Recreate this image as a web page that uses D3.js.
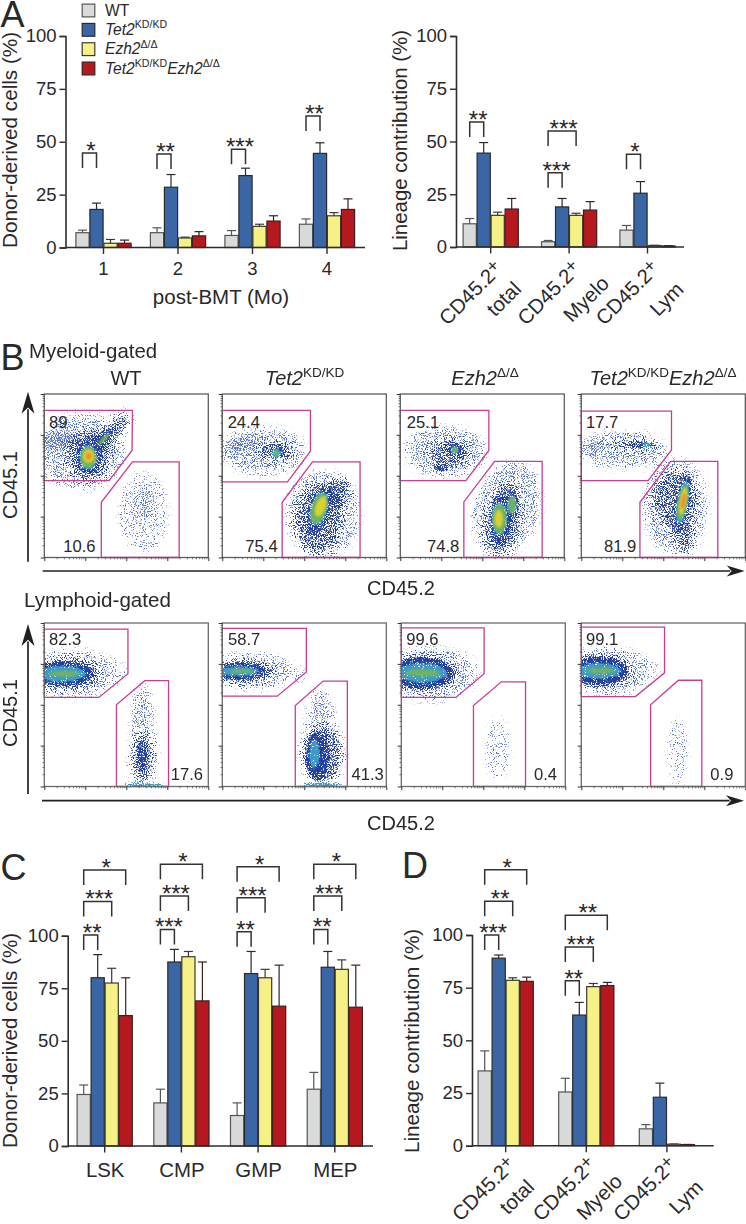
<!DOCTYPE html>
<html><head><meta charset="utf-8">
<script src="https://cdn.jsdelivr.net/npm/d3@7"></script>
<style>
html,body{margin:0;padding:0;background:#fff}
svg{display:block}
text{font-family:"Liberation Sans",Arial,sans-serif;fill:#2a2829}
</style></head><body><div id="c"></div>
<script>
// ---------- bar chart data ----------
const seriesKeys = ["WT","Tet2","Ezh2","DKO"];
const seriesFill = ["#d9dada","#3a66a6","#f6f186","#b5191f"];
const seriesStroke = ["#555555","#2b2a2a","#3a3a30","#3a2020"];

const monthGroups = ["1","2","3","4"];
const aLeftMean = [[7,7,5.7,11],[18,28.5,34,44.5],[2,4.5,10,15],[2,5.5,12.5,18]];
const aLeftTop  = [[8.2,9.3,8,13.5],[21,34.5,37.5,49.5],[3.8,4.9,11,16.5],[3.5,7.5,15,23]];

const lineageGroups = ["total","Myelo","Lym"];
const aRightMean = [[11,2.5,8],[44.5,19,25.5],[15,15,0.7],[18,17.5,0.5]];
const aRightTop  = [[13.5,3.1,10.2],[49.5,23,31],[16.5,16,0.8],[23,21.5,0.6]];

const progenitorGroups = ["LSK","CMP","GMP","MEP"];
const cMean = [[24.5,20.5,14.5,27],[80,87.5,82,85],[77.5,90,80,84],[62,69,66.5,66]];
const cTop  = [[29,27,20.5,35],[91,93.5,92.5,92.5],[84.5,92.5,84,88.5],[80,87.5,86,86]];

const dMean = [[35.5,25.5,8],[89,62,23],[78.5,75.5,0.7],[78,76,0.5]];
const dTop  = [[45,32,10],[90.5,68,29.7],[79.7,77,0.8],[80,77.5,0.6]];

const yTicks = [0,25,50,75,100];

// significance brackets: group, from bar, to bar, top value, stars
const aLeftSig = [["1",0,1,44.7,"*"],["2",0,1,44.2,"**"],["3",0,1,46.4,"***"],["4",0,1,62.2,"**"]];
const aRightSig = [["total",0,1,59.3,"**"],["Myelo",0,1,35.2,"***"],["Myelo",0,2,55,"***"],["Lym",0,1,43.9,"*"]];
const cSig = [["LSK",0,1,100.3,"**"],["LSK",0,2,116.3,"***"],["LSK",0,3,131.2,"*"],
  ["CMP",0,1,103,"***"],["CMP",0,2,118.9,"***"],["CMP",0,3,134,"*"],
  ["GMP",0,1,101.9,"**"],["GMP",0,2,118.1,"***"],["GMP",0,3,132.8,"*"],
  ["MEP",0,1,103,"**"],["MEP",0,2,118.9,"***"],["MEP",0,3,134,"*"]];
const dSig = [["total",0,1,100,"***"],["total",0,2,116,"**"],["total",0,3,131,"*"],
  ["Myelo",0,1,78.3,"**"],["Myelo",0,2,94.3,"***"],["Myelo",0,3,109.4,"**"]];

// ---------- flow cytometry data (axes in log decades, 0 to 4) ----------
const flowTitles = ["WT","Tet2","Ezh2","DKO"];
const row1Percent = [["89","10.6"],["24.4","75.4"],["25.1","74.8"],["17.7","81.9"]];
const row2Percent = [["82.3","17.6"],["58.7","41.3"],["99.6","0.4"],["99.1","0.9"]];

const row1GateUpper = [
 [[0,3.6],[2.15,3.6],[2.14,2.62],[1.58,1.88],[0,1.88]],
 [[0,3.6],[2.15,3.6],[2.15,2.6],[1.59,1.85],[0,1.85]],
 [[0,3.6],[2.16,3.6],[2.16,2.62],[1.6,1.88],[0,1.88]],
 [[0,3.58],[2.2,3.58],[2.2,2.63],[1.63,1.88],[0,1.88]]];
const row1GateLower = [
 [[2.15,2.34],[3.29,2.34],[3.29,0],[1.39,0],[1.39,1.35]],
 [[2.2,2.34],[3.36,2.34],[3.36,0],[1.46,0],[1.46,1.35]],
 [[2.3,2.35],[3.46,2.35],[3.46,0],[1.55,0],[1.55,1.36]],
 [[2.18,2.35],[3.33,2.35],[3.33,0],[1.43,0],[1.43,1.35]]];
const row2GateUpper = [
 [[0,3.85],[2.04,3.85],[2.04,2.76],[1.33,2.18],[0,2.18]],
 [[0,3.87],[2.05,3.87],[2.05,2.8],[1.34,2.21],[0,2.21]],
 [[0,3.88],[2.02,3.88],[2.02,2.76],[1.33,2.18],[0,2.18]],
 [[0,3.9],[2.03,3.9],[2.03,2.78],[1.32,2.2],[0,2.2]]];
const row2GateLower = [
 [[2.45,2.59],[3.03,2.59],[3.03,0],[1.76,0],[1.76,2.0]],
 [[2.46,2.58],[3.05,2.58],[3.05,0],[1.78,0],[1.78,1.98]],
 [[2.44,2.56],[3.03,2.56],[3.03,0],[1.76,0],[1.76,1.98]],
 [[2.37,2.6],[2.94,2.6],[2.94,0],[1.69,0],[1.69,2.0]]];

// Density regions: level, centre x, centre y, radius x, radius y, tilt.
// Individual events cannot be read, so each plot shows density regions with a noise texture.
const row1Density = [
 [[1,0.9,2.6,1.05,0.95,0],[1,0.45,2.85,0.55,0.22,0],[2,1.07,2.5,0.6,0.68,0],[2,1.55,3.0,0.75,0.25,-45],[3,1.07,2.45,0.34,0.46,0],[3,1.5,2.95,0.4,0.12,-45],[4,1.07,2.45,0.22,0.3,0],[5,1.07,2.45,0.19,0.26,0],[5,1.45,2.9,0.22,0.05,-45],[6,1.08,2.48,0.14,0.17,0],[7,1.08,2.48,0.07,0.09,0],
  [0,2.42,1.1,0.62,1.0,0],[0,2.42,1.3,0.25,0.42,0]],
 [[1,1.0,2.6,1.05,0.58,0],[2,1.3,2.6,0.5,0.28,0],[1,0.5,2.75,0.5,0.15,0],[3,1.35,2.58,0.22,0.18,0],[4,1.32,2.55,0.12,0.12,0],[5,1.32,2.55,0.07,0.08,0],
  [1,2.45,1.05,0.9,1.08,0],[2,2.35,0.95,0.62,0.9,0],[2,2.8,1.6,0.38,0.38,0],[3,2.35,1.1,0.3,0.62,15],[4,2.36,1.2,0.2,0.42,15],[5,2.36,1.2,0.18,0.38,15],[6,2.4,1.25,0.12,0.26,20]],
 [[1,1.1,2.6,1.0,0.62,0],[2,1.2,2.55,0.55,0.42,0],[3,1.35,2.62,0.2,0.2,0],[3,1.0,2.2,0.2,0.12,0],[4,1.33,2.63,0.11,0.1,0],[5,1.33,2.63,0.07,0.07,0],
  [1,2.6,1.2,0.8,1.18,15],[2,2.5,0.95,0.48,0.95,10],[3,2.45,0.9,0.28,0.68,0],[3,2.72,1.3,0.2,0.38,0],[4,2.42,0.95,0.19,0.4,0],[4,2.72,1.28,0.12,0.25,0],[5,2.42,0.95,0.17,0.36,0],[5,2.72,1.28,0.09,0.2,0],[6,2.4,0.95,0.1,0.22,0]],
 [[1,1.0,2.65,1.08,0.47,0],[2,1.25,2.75,0.68,0.16,0],[1,0.3,2.75,0.22,0.13,0],[3,1.45,2.75,0.38,0.1,0],[4,1.6,2.75,0.12,0.07,0],
  [1,2.3,1.25,0.78,1.18,0],[2,2.3,1.4,0.58,0.78,0],[2,2.5,0.5,0.28,0.45,0],[3,2.47,1.35,0.2,0.72,10],[4,2.47,1.35,0.14,0.55,10],[5,2.47,1.35,0.11,0.45,10],[6,2.48,1.38,0.08,0.34,10],[7,2.49,1.38,0.05,0.2,10]]];
const row2Density = [
 [[1,0.7,2.76,1.05,0.58,0],[0,1.55,2.8,0.5,0.35,0],[2,0.55,2.76,0.88,0.44,0],[3,0.5,2.76,0.74,0.34,0],[3,0.45,2.76,0.68,0.29,0],[4,0.42,2.76,0.6,0.2,0],[5,0.48,2.76,0.38,0.07,0],
  [1,2.4,1.3,0.28,1.25,0],[2,2.4,0.72,0.3,0.68,0],[3,2.4,0.75,0.16,0.45,0],[4,2.42,0.04,0.47,0.06,0]],
 [[1,0.75,2.82,1.0,0.45,0],[0,1.6,2.75,0.5,0.22,0],[2,0.55,2.82,0.78,0.34,0],[3,0.45,2.82,0.66,0.24,0],[3,0.42,2.82,0.6,0.2,0],[4,0.4,2.82,0.5,0.13,0],[5,0.48,2.82,0.3,0.05,0],
  [1,2.4,1.25,0.36,1.2,0],[2,2.45,0.8,0.52,0.76,0],[3,2.32,0.75,0.32,0.64,0],[3,2.32,0.75,0.24,0.56,0],[4,2.25,0.8,0.14,0.36,0],[4,2.4,0.04,0.5,0.06,0]],
 [[1,0.72,2.75,1.05,0.66,0],[0,1.5,2.8,0.42,0.42,0],[2,0.55,2.78,0.86,0.5,0],[3,0.5,2.78,0.8,0.42,0],[3,0.5,2.78,0.74,0.36,0],[4,0.5,2.78,0.62,0.24,0],[5,0.52,2.78,0.42,0.09,0],
  [0,2.35,0.9,0.3,0.78,0]],
 [[1,0.7,2.83,1.0,0.58,0],[0,1.5,2.85,0.42,0.3,0],[2,0.5,2.83,0.8,0.46,0],[3,0.45,2.83,0.72,0.38,0],[3,0.42,2.83,0.66,0.32,0],[4,0.42,2.83,0.55,0.2,0],[5,0.48,2.83,0.34,0.07,0],
  [0,2.35,0.85,0.25,0.85,0]]];
const levelColor = ["#5b74b8","#5a75bc","#24408f","#23409f","#3d9cc6","#73b25c","#e0d32e","#ee8a2a"];
const levelDensity = [0.3,0.46,0.64,0.82,1,0.95,0.95,0.95];
const levelBlur = [3,4.5,4,1.7,1.7,0,0,0];

const logSteps = [2,3,4,5,6,7,8,9];

// ---------- drawing ----------
const W=746,H=1224;
const svg=d3.select("#c").append("svg").attr("width",W).attr("height",H).attr("viewBox",[0,0,W,H]);
const defs=svg.append("defs");
[...new Set(levelBlur.filter(b=>b>0))].forEach(std=>{
  const fp=defs.append("filter").attr("id","speckle"+String(std).replace(".","_")).attr("filterUnits","userSpaceOnUse")
    .attr("x",0).attr("y",0).attr("width",W).attr("height",H).attr("color-interpolation-filters","sRGB");
  fp.append("feGaussianBlur").attr("in","SourceGraphic").attr("stdDeviation",std).attr("result","b");
  fp.append("feTurbulence").attr("type","fractalNoise").attr("baseFrequency",0.9).attr("numOctaves",2).attr("seed",5).attr("result","n");
  fp.append("feColorMatrix").attr("in","n").attr("type","matrix").attr("values","0 0 0 0 0  0 0 0 0 0  0 0 0 0 0  2.2 0 0 0 -0.6").attr("result","na");
  fp.append("feComposite").attr("in","na").attr("in2","b").attr("operator","arithmetic").attr("k1",0).attr("k2",1).attr("k3",1).attr("k4",-1).attr("result","m0");
  fp.append("feComponentTransfer").attr("in","m0").attr("result","m").append("feFuncA").attr("type","linear").attr("slope",4).attr("intercept",0);
  fp.append("feComponentTransfer").attr("in","b").attr("result","c").append("feFuncA").attr("type","linear").attr("slope",60).attr("intercept",0);
  fp.append("feComposite").attr("in","c").attr("in2","m").attr("operator","in");
});
defs.append("filter").attr("id","soft").append("feGaussianBlur").attr("stdDeviation",1.3);

function rich(sel,parts){
  parts.forEach(p=>{
    const t=sel.append("tspan").text(p.t);
    if(p.i) t.attr("font-style","italic");
    if(p.s) t.attr("font-size",p.s).attr("dy",p.d);
  });
  return sel;
}
function geno(k,base,sup){
  const u=+(base*0.42).toFixed(1);
  const kd={t:"KD/KD",s:sup,d:-u}, dd={t:"\u0394/\u0394",s:sup,d:-u};
  if(k==="WT") return [{t:"WT"}];
  if(k==="Tet2") return [{t:"Tet2",i:1},kd];
  if(k==="Ezh2") return [{t:"Ezh2",i:1},dd];
  return [{t:"Tet2",i:1},kd,{t:"Ezh2",i:1,s:base,d:u},dd];
}
function T(x,y,txt,size,anchor,rot){
  const t=svg.append("text").attr("font-size",size).attr("text-anchor",anchor||"start");
  if(rot!=null) t.attr("transform",`translate(${x},${y}) rotate(${rot})`);
  else t.attr("x",x).attr("y",y);
  if(txt!=null) t.text(txt);
  return t;
}

function barPanel(o){
  const y=d3.scaleLinear().domain([0,100]).range([o.y0,o.y100]);
  const band=o.step*o.groups.length;
  const x0=d3.scaleBand().domain(o.groups).range([o.c1-o.step/2,o.c1-o.step/2+band]);
  const x1=d3.scaleBand().domain(seriesKeys).range([-28,28]);
  const barW=13.2;
  const g=svg.append("g");
  seriesKeys.forEach((k,si)=>{
    o.groups.forEach((gr,gi)=>{
      const cx=x0(gr)+x0.bandwidth()/2+x1(k)+x1.bandwidth()/2;
      const stroke=seriesStroke[si];
      const m=o.mean[si][gi],t=o.top[si][gi];
      g.append("line").attr("x1",cx).attr("x2",cx).attr("y1",y(m)).attr("y2",y(t)).attr("stroke",stroke).attr("stroke-width",1.2);
      g.append("line").attr("x1",cx-4.5).attr("x2",cx+4.5).attr("y1",y(t)).attr("y2",y(t)).attr("stroke",stroke).attr("stroke-width",1.2);
      g.append("rect").attr("x",cx-barW/2).attr("y",y(m)).attr("width",barW).attr("height",y(0)-y(m))
        .attr("fill",seriesFill[si]).attr("stroke",stroke).attr("stroke-width",1.2);
    });
  });
  const ya=g.append("g").attr("transform",`translate(${o.axisX},0)`)
    .call(d3.axisLeft(y).tickValues(yTicks).tickSize(6).tickPadding(3));
  ya.selectAll("path").attr("stroke","#2e2c2c").attr("stroke-width",1.6);
  ya.selectAll("line").attr("stroke","#2e2c2c").attr("stroke-width",1.4);
  ya.selectAll("text").attr("font-size",o.tickSize||18.5).attr("font-family","Liberation Sans").attr("fill","#2a2829");
  const xa=g.append("g").attr("transform",`translate(0,${o.y0})`)
    .call(d3.axisBottom(x0).tickSizeOuter(0).tickSize(6.5).tickFormat(d=>""));
  xa.select("path").remove();
  xa.selectAll("line").attr("stroke","#2e2c2c").attr("stroke-width",1.4);
  xa.selectAll("text").remove();
  g.append("line").attr("x1",o.axisX).attr("x2",o.endX).attr("y1",o.y0).attr("y2",o.y0).attr("stroke","#2e2c2c").attr("stroke-width",1.6);
  o.sig.forEach(([gr,a,b,top,stars])=>{
    const c=x0(gr)+x0.bandwidth()/2;
    const xa_=c+x1(seriesKeys[a])+x1.bandwidth()/2, xb_=c+x1(seriesKeys[b])+x1.bandwidth()/2;
    const yt=y(top);
    g.append("path").attr("d",d3.line()([[xa_,yt+15],[xa_,yt],[xb_,yt],[xb_,yt+15]]))
      .attr("fill","none").attr("stroke","#333").attr("stroke-width",1.5);
    T((xa_+xb_)/2+1.5,yt+6,stars,24,"middle");
  });
  return {x0,y};
}

const aL=barPanel({groups:monthGroups,mean:aLeftMean,top:aLeftTop,sig:aLeftSig,c1:103.5,step:74.5,y0:247.5,y100:36,axisX:65.5,endX:365});
monthGroups.forEach(m=>T(aL.x0(m)+aL.x0.bandwidth()/2,275,m,18.5,"middle"));
T(221,304,"post-BMT (Mo)",20.5,"middle");
T(17,248,"Donor-derived cells (%)",20.7,"start",-90);
const aR=barPanel({groups:lineageGroups,mean:aRightMean,top:aRightTop,sig:aRightSig,c1:490.7,step:78.4,y0:247,y100:36,axisX:456,endX:684});
T(407,251,"Lineage contribution (%)",20.4,"start",-90);
const cP=barPanel({groups:progenitorGroups,mean:cMean,top:cTop,sig:cSig,c1:104.7,step:76.7,y0:1146,y100:935.7,axisX:67.7,endX:373});
progenitorGroups.forEach(m=>T(cP.x0(m)+cP.x0.bandwidth()/2+0.5,1176.5,m,20.4,"middle"));
T(17,1148,"Donor-derived cells (%)",20.6,"start",-90);
const dP=barPanel({groups:lineageGroups,mean:dMean,top:dTop,sig:dSig,c1:505.7,step:80.6,y0:1145.7,y100:935,axisX:472,endX:713.7});
T(418.7,1153,"Lineage contribution (%)",20.7,"start",-90);

function slanted(P,yA,yB,dxA,dxB){
  lineageGroups.forEach((g,i)=>{
    const c=P.x0(g)+P.x0.bandwidth()/2;
    const t=T(c+dxA,yA,null,20.4,"middle",-45);
    rich(t,[{t:"CD45.2"},{t:"+",s:18,d:-5}]);
    T(c+dxB[i],yB,g,20.4,"middle",-45);
  });
}
slanted(aR,298,304,-15,[18,22,24]);
slanted(dP,1194,1202,-17,[16,18,24]);

T(0.5,27,"A",36);T(0.5,370,"B",36);T(0.5,880,"C",36);T(402,878,"D",36);

const lg=d3.scalePoint().domain(seriesKeys).range([10.5,68.5]);
seriesKeys.forEach((k,i)=>{
  svg.append("rect").attr("x",82.2).attr("y",lg(k)-6.4).attr("width",12.6).attr("height",12.8)
    .attr("fill",seriesFill[i]).attr("stroke",seriesStroke[i]).attr("stroke-width",1.2);
  rich(T(105,lg(k)+5.2,null,15.6),geno(k,15.6,10.6));
});

const flowW=164,flowH=163.5;
function flowRow(o){
  o.xs.forEach((left,i)=>{
    const sx=d3.scaleLinear().domain([0,4]).range([left,left+flowW]);
    const sy=d3.scaleLinear().domain([0,4]).range([o.top+flowH,o.top]);
    const id=`cl${o.key}${i}`;
    defs.append("clipPath").attr("id",id).append("rect").attr("x",left).attr("y",o.top).attr("width",flowW).attr("height",flowH);
    const pg=svg.append("g").attr("clip-path",`url(#${id})`);
    d3.range(levelColor.length).forEach(l=>{
      const b=levelBlur[l];
      const lg_=pg.append("g").attr("filter",b>0?`url(#speckle${String(b).replace(".","_")})`:"url(#soft)");
      o.density[i].filter(e=>e[0]===l).forEach(([lv,cx,cy,rx,ry,a])=>{
        lg_.append("ellipse").attr("rx",sx(rx)-sx(0)).attr("ry",sy(0)-sy(ry))
          .attr("transform",`translate(${sx(cx)},${sy(cy)}) rotate(${a})`)
          .attr("fill",levelColor[lv]).attr("fill-opacity",levelDensity[lv]);
      });
    });
    const line=d3.line().x(d=>sx(d[0])).y(d=>sy(d[1])).curve(d3.curveLinearClosed);
    [o.gu[i],o.gl[i]].forEach(p=>svg.append("path").attr("d",line(p)).attr("fill","none").attr("stroke","#c93d93").attr("stroke-width",1.3));
    svg.append("rect").attr("x",left).attr("y",o.top).attr("width",flowW).attr("height",flowH)
      .attr("fill","none").attr("stroke",o.frame).attr("stroke-width",1.3);
    const major=d3.range(0,5), minor=d3.range(0,4).flatMap(d=>logSteps.map(k=>d+Math.log10(k)));
    [[d3.axisBottom(sx),`translate(0,${o.top+flowH})`],[d3.axisLeft(sy),`translate(${left},0)`]].forEach(([ax,tr])=>{
      const a=svg.append("g").attr("transform",tr).call(ax.tickValues(minor).tickSize(1.8).tickFormat(""));
      a.select("path").remove();
      a.selectAll("line").attr("stroke","#444").attr("stroke-width",0.7);
      const b=svg.append("g").attr("transform",tr).call(ax.tickValues(major).tickSize(3.6).tickFormat(""));
      b.select("path").remove();
      b.selectAll("line").attr("stroke","#333").attr("stroke-width",1);
    });
    T(sx(o.upX[i]),sy(o.upY),o.pct[i][0],16.6);
    T(sx(o.loX[i]),sy(o.loY),o.pct[i][1],16.6,"end");
  });
}
flowRow({key:"a",xs:[44.3,222.3,400.3,581.3],top:394,frame:"#5e5e5e",density:row1Density,gu:row1GateUpper,gl:row1GateLower,pct:row1Percent,
  upX:[.115,.13,.16,.115],upY:3.18,loX:[1.25,1.35,1.44,1.34],loY:.13});
flowRow({key:"b",xs:[44.3,222.3,401.3,581.3],top:623,frame:"#6a6a6a",density:row2Density,gu:row2GateUpper,gl:row2GateLower,pct:row2Percent,
  upX:[.115,.14,.12,.115],upY:3.46,loX:[3.87,3.94,3.8,3.71],loY:.15});

[126,304.5,485,663].forEach((c,i)=>{
  rich(T(c,385,null,20,"middle"),geno(flowTitles[i],20,13.5));
});
T(29,357.5,"Myeloid-gated",20.4);
T(24,606.5,"Lymphoid-gated",20.6);
T(401,595,"CD45.2",20,"middle");
T(401,830,"CD45.2",20,"middle");
T(17,485,"CD45.1",20,"middle",-90);
T(17,713,"CD45.1",20,"middle",-90);

function arrow(x1,y1,x2,y2,len,wid){
  const dx=x2-x1,dy=y2-y1,L=Math.hypot(dx,dy),ux=dx/L,uy=dy/L;
  svg.append("line").attr("x1",x1).attr("y1",y1).attr("x2",x2-ux*len*.8).attr("y2",y2-uy*len*.8).attr("stroke","#231f20").attr("stroke-width",1.7);
  const bx=x2-ux*len,by=y2-uy*len, nx=-uy,ny=ux;
  svg.append("path").attr("d",d3.line()([[x2,y2],[bx+nx*wid/2,by+ny*wid/2],[x2-ux*len*.72,y2-uy*len*.72],[bx-nx*wid/2,by-ny*wid/2]])+"Z").attr("fill","#231f20");
}
arrow(28,561.7,28,391.7,22,13);
arrow(28,794,28,624,22,13);
arrow(42.7,571,744.7,571,18,11);
arrow(42,800.7,744,800.7,18,11);
</script></body></html>
